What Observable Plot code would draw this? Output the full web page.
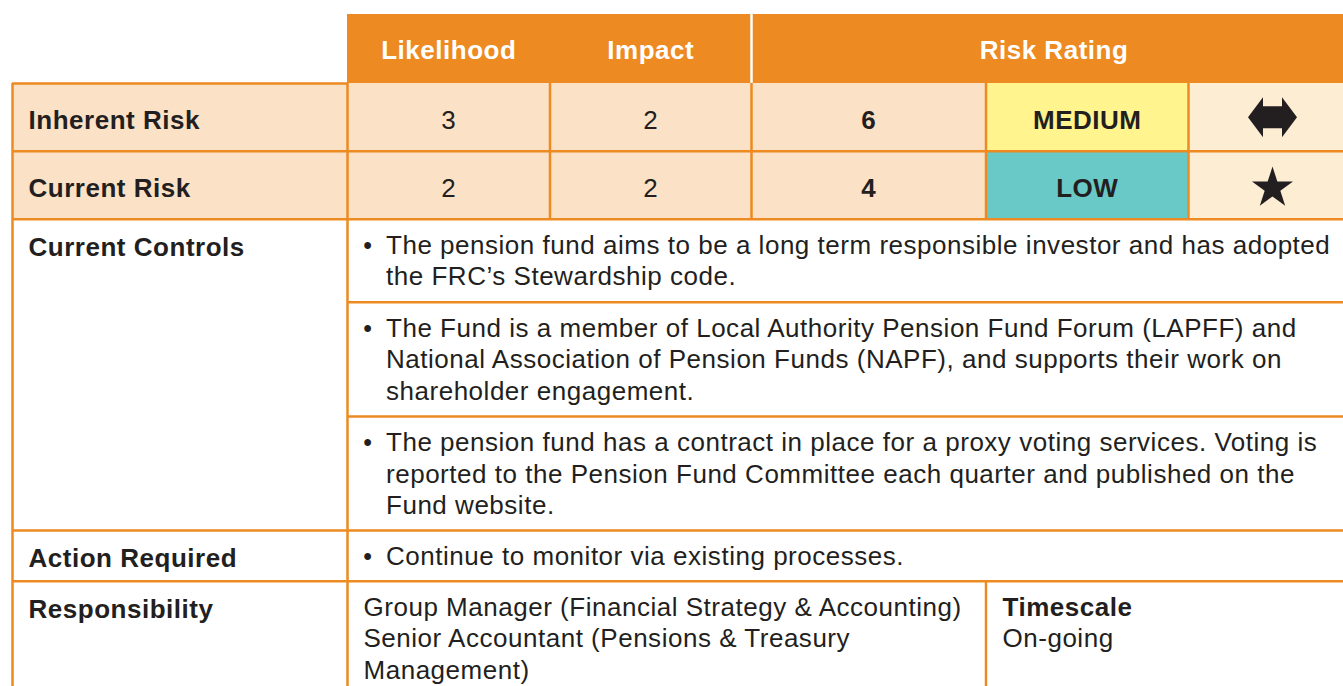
<!DOCTYPE html>
<html><head><meta charset="utf-8">
<script src="https://cdn.jsdelivr.net/npm/d3@7"></script>
<script src="https://cdn.jsdelivr.net/npm/@observablehq/plot@0.6"></script>
<style>html,body{margin:0;padding:0;background:#fff;overflow:hidden}</style>
</head><body><div id="chart"></div>
<script>
// ---------------- data ----------------
const headers = ["Likelihood", "Impact", "Risk Rating"];
const riskRows = ["Inherent Risk", "Current Risk"];
const likelihood = [3, 2];
const impact = [2, 2];
const riskScore = [6, 4];
const ratings = ["MEDIUM", "LOW"];
const trends = ["steady", "improving"];
const sectionLabels = ["Current Controls", "Action Required", "Responsibility"];
const controls = [
  "The pension fund aims to be a long term responsible investor and has adopted\nthe FRC’s Stewardship code.",
  "The Fund is a member of Local Authority Pension Fund Forum (LAPFF) and\nNational Association of Pension Funds (NAPF), and supports their work on\nshareholder engagement.",
  "The pension fund has a contract in place for a proxy voting services. Voting is\nreported to the Pension Fund Committee each quarter and published on the\nFund website."
];
const actions = ["Continue to monitor via existing processes."];
const responsibility = "Group Manager (Financial Strategy & Accounting)\nSenior Accountant (Pensions & Treasury\nManagement)";
const timescaleLabel = "Timescale";
const timescale = "On-going";

// ---------------- layout & style ----------------
const L = {
  left: 12, split: 347, right: 1356,
  cols: [347, 549.5, 751, 985.5, 1188, 1356],
  headTop: 14, headBottom: 83,
  riskEdges: [83, 150.7, 218.7],
  controlEdges: [218.7, 301.7, 416, 530],
  actionEdges: [530, 580.7],
  respEdges: [580.7, 700],
  respSplit: 985.5,
  labelX: 28, bulletX: 367.5, bulletTextX: 385.5, respX: 363, timeX: 1002,
  gap: 31.6, firstRight: 26.3, firstLeft: 28.3
};
const C = {orange: "#ED8A21", peach: "#FBE2C7", cream: "#FDEDD3", ink: "#231F20",
  rating: {MEDIUM: "#FFF48D", LOW: "#69C9C7", HIGH: "#E8493F"}};
const FONT = "Liberation Sans, Arial, Helvetica, sans-serif";
const FS = 26;

const doubleArrow = {
  draw(ctx, size) {
    const k = Math.sqrt(size / Math.PI) / 24.5;
    const p = [[-24.5,0],[-9.5,-20],[-9.5,-11],[9.5,-11],[9.5,-20],[24.5,0],[9.5,20],[9.5,11],[-9.5,11],[-9.5,20]];
    ctx.moveTo(p[0][0]*k, p[0][1]*k);
    for (let i = 1; i < p.length; i++) ctx.lineTo(p[i][0]*k, p[i][1]*k);
    ctx.closePath();
  }
};

// ---------------- derived tables ----------------
const mid = (a, b) => (a + b) / 2;
const cells = [{x1: L.split, x2: L.right, y1: L.headTop, y2: L.headBottom, fill: C.orange}];
riskRows.forEach((r, i) => {
  const y1 = L.riskEdges[i], y2 = L.riskEdges[i + 1];
  cells.push({x1: L.left, x2: L.split, y1, y2, fill: C.peach});
  for (let c = 0; c < 5; c++) {
    const fill = c < 3 ? C.peach : c === 3 ? C.rating[ratings[i]] : C.cream;
    cells.push({x1: L.cols[c], x2: L.cols[c + 1], y1, y2, fill});
  }
});

const hLines = [
  {y: L.riskEdges[0], x1: L.left, x2: L.split},
  {y: L.riskEdges[1], x1: L.left, x2: L.right},
  {y: L.riskEdges[2], x1: L.left, x2: L.right},
  {y: L.controlEdges[1], x1: L.split, x2: L.right},
  {y: L.controlEdges[2], x1: L.split, x2: L.right},
  {y: L.actionEdges[0], x1: L.left, x2: L.right},
  {y: L.actionEdges[1], x1: L.left, x2: L.right}
];
const bottom = L.respEdges[1];
const vLines = [
  {x: L.left, y1: L.riskEdges[0], y2: bottom},
  {x: L.split, y1: L.riskEdges[0], y2: bottom},
  ...L.cols.slice(1, 5).map(x => ({x, y1: L.riskEdges[0], y2: L.riskEdges[2]})),
  {x: L.respSplit, y1: L.respEdges[0], y2: bottom}
];

const headerCenters = [mid(L.cols[0], L.cols[1]), mid(L.cols[1], L.cols[2]), mid(L.cols[2], L.right)];
const headerText = headers.map((h, i) => ({text: h, x: headerCenters[i], y: mid(L.headTop, L.headBottom) + 1.3}));

const rowY = i => mid(L.riskEdges[i], L.riskEdges[i + 1]) + 3;
const rowLabels = riskRows.map((r, i) => ({text: r, x: L.labelX, y: rowY(i)}));
const sectionTops = [L.controlEdges[0], L.actionEdges[0], L.respEdges[0]];
sectionLabels.forEach((s, i) => rowLabels.push({text: s, x: L.labelX, y: sectionTops[i] + L.firstLeft}));

const regularVals = [], boldVals = [];
riskRows.forEach((r, i) => {
  regularVals.push({text: String(likelihood[i]), x: mid(L.cols[0], L.cols[1]), y: rowY(i)});
  regularVals.push({text: String(impact[i]), x: mid(L.cols[1], L.cols[2]), y: rowY(i)});
  boldVals.push({text: String(riskScore[i]), x: mid(L.cols[2], L.cols[3]), y: rowY(i)});
  boldVals.push({text: ratings[i], x: mid(L.cols[3], L.cols[4]), y: rowY(i)});
});
const trendData = trends.map((t, i) => ({trend: t, x: mid(L.cols[4], L.cols[5]), y: mid(L.riskEdges[i], L.riskEdges[i + 1])}));

function lines(text, x, top) {
  return text.split("\n").map((t, j) => ({text: t, x, y: top + L.firstRight + j * L.gap}));
}
const bullets = [];
let bodyLines = [];
controls.forEach((t, i) => {
  bullets.push({text: "•", x: L.bulletX, y: L.controlEdges[i] + L.firstRight});
  bodyLines = bodyLines.concat(lines(t, L.bulletTextX, L.controlEdges[i]));
});
actions.forEach(t => {
  bullets.push({text: "•", x: L.bulletX, y: L.actionEdges[0] + L.firstRight});
  bodyLines = bodyLines.concat(lines(t, L.bulletTextX, L.actionEdges[0]));
});
bodyLines = bodyLines.concat(lines(responsibility, L.respX, L.respEdges[0]));
bodyLines = bodyLines.concat(lines(timescale, L.timeX, L.respEdges[0] + L.gap));
const timeLabel = [{text: timescaleLabel, x: L.timeX, y: L.respEdges[0] + L.firstRight}];

const txt = (data, o) => Plot.text(data, {x: "x", y: "y", text: "text", fontFamily: FONT, fontSize: FS, fill: C.ink, ...o});

const chart = Plot.plot({
  width: 1343, height: 686, margin: 0,
  x: {type: "linear", domain: [0, 1343], range: [0, 1343], axis: null},
  y: {type: "linear", domain: [0, 686], range: [0, 686], axis: null},
  color: {type: "identity"},
  style: {background: "#fff", letterSpacing: "0.52px", overflow: "hidden"},
  marks: [
    Plot.rect(cells, {x1: "x1", x2: "x2", y1: "y1", y2: "y2", fill: "fill"}),
    Plot.ruleX([{x: L.cols[2], y1: L.headTop, y2: L.headBottom}], {x: "x", y1: "y1", y2: "y2", stroke: "#fff", strokeWidth: 2.5}),
    Plot.ruleY(hLines, {y: "y", x1: "x1", x2: "x2", stroke: C.orange, strokeWidth: 2.5}),
    Plot.ruleX(vLines, {x: "x", y1: "y1", y2: "y2", stroke: C.orange, strokeWidth: 2.5}),
    txt(headerText, {fill: "#fff", fontWeight: "bold"}),
    txt(rowLabels, {textAnchor: "start", fontWeight: "bold"}),
    txt(regularVals, {}),
    txt(boldVals, {fontWeight: "bold"}),
    txt(bullets, {fontSize: 25}),
    txt(bodyLines, {textAnchor: "start"}),
    txt(timeLabel, {textAnchor: "start", fontWeight: "bold"}),
    Plot.dot(trendData, {filter: d => d.trend === "steady", x: "x", y: "y", symbol: doubleArrow, r: 24.5, fill: C.ink}),
    Plot.dot(trendData, {filter: d => d.trend === "improving", x: "x", y: "y", dy: 3, symbol: "star", r: 12.9, fill: C.ink})
  ]
});
document.getElementById("chart").appendChild(chart);
</script>
</body></html>
